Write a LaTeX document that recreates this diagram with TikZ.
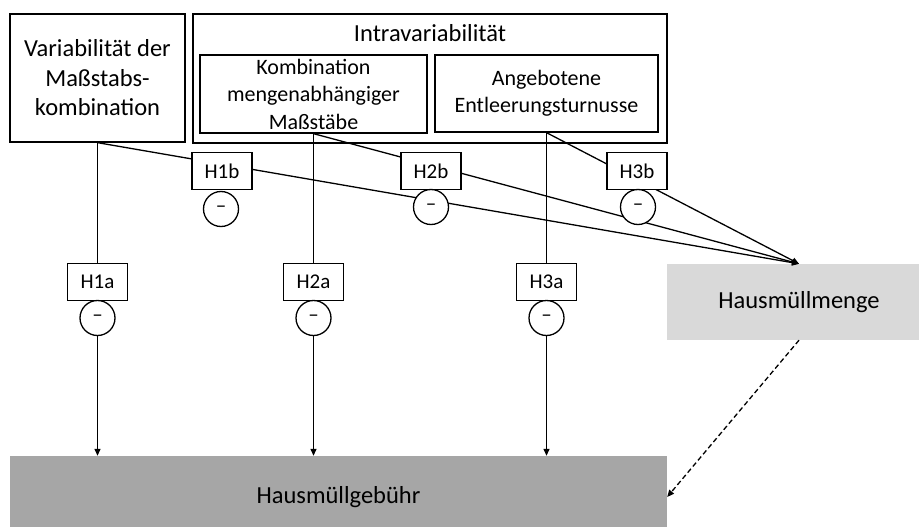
\documentclass[tikz,border=0pt]{standalone}
\usepackage{fontspec}
\setmainfont{Carlito}
\usetikzlibrary{arrows.meta}

\begin{document}
\begin{tikzpicture}[x=1pt,y=-1pt,
	box/.style={rectangle, draw, line width=1.3pt, inner sep=0pt, align=center},
	hyp/.style={rectangle, draw, fill=white, line width=1.3pt, inner sep=0pt, minimum width=60pt, minimum height=37pt, font=\fontsize{21}{25}\selectfont},
	neg/.style={circle, draw, fill=white, line width=1.3pt, inner sep=0pt, minimum size=35pt, font=\fontsize{21}{25}\selectfont},
	pfeil/.style={line width=1.3pt, -{Triangle[length=7pt,width=6pt]}}]

	\useasboundingbox (0,0) rectangle (919,527);

	\node 	(var)		at	(97.5,78) 	[box, minimum width=175pt, minimum height=128pt, font=\fontsize{24.5}{29.5}\selectfont]{Variabilität der\\Maßstabs-\\kombination};

	\node 	(intra)		at	(430,78.5) 	[box, minimum width=474pt, minimum height=129pt]{};
	\node 	(intratitel)	at	(430,33) 	[font=\fontsize{24.5}{29.5}\selectfont]{Intravariabilität};

	\node 	(komb)		at	(313.5,94) 	[box, minimum width=227pt, minimum height=78pt, font=\fontsize{22}{27.5}\selectfont]{Kombination\\mengenabhängiger\\Maßstäbe};
	\node 	(ange)		at	(546.5,93.5) 	[box, minimum width=223pt, minimum height=77pt, font=\fontsize{22}{27}\selectfont]{Angebotene\\Entleerungsturnusse};

	\node 	(menge)		at	(799,302) 	[rectangle, fill={rgb,255:red,217;green,217;blue,217}, minimum width=264pt, minimum height=76pt, font=\fontsize{24.5}{29.5}\selectfont]{Hausmüllmenge};
	\node 	(gebuehr)	at	(338.5,497) 	[rectangle, fill={rgb,255:red,166;green,166;blue,166}, minimum width=657pt, minimum height=82pt, font=\fontsize{24.5}{29.5}\selectfont]{Hausmüllgebühr};

	% Wirkung auf die Gebuehr
	\draw[pfeil] (var.south)	-- (var.south |- gebuehr.north);
	\draw[pfeil] (komb.south)	-- (komb.south |- gebuehr.north);
	\draw[pfeil] (ange.south)	-- (ange.south |- gebuehr.north);

	% Wirkung auf die Menge
	\draw[pfeil] (var.south)	-- (menge.north);
	\draw[pfeil] (komb.south)	-- (menge.north);
	\draw[pfeil] (ange.south)	-- (menge.north);

	\draw[pfeil, dash pattern=on 5pt off 3pt] (menge.south) -- (gebuehr.east);

	% Hypothesen
	\node 	(h1b)	at	(222,171) 	[hyp]{H1b};
	\node 	(h2b)	at	(431,171) 	[hyp]{H2b};
	\node 	(h3b)	at	(637,171) 	[hyp]{H3b};
	\node 	(n1b)	at	(221,209) 	[neg]{--};
	\node 	(n2b)	at	(431,207) 	[neg]{--};
	\node 	(n3b)	at	(638,207) 	[neg]{--};

	\node 	(h1a)	at	(97.5,282) 	[hyp]{H1a};
	\node 	(h2a)	at	(313.5,282) 	[hyp]{H2a};
	\node 	(h3a)	at	(546.5,282) 	[hyp]{H3a};
	\node 	(n1a)	at	(97.5,318) 	[neg]{--};
	\node 	(n2a)	at	(313.5,318) 	[neg]{--};
	\node 	(n3a)	at	(546.5,318) 	[neg]{--};

\end{tikzpicture}
\end{document}
